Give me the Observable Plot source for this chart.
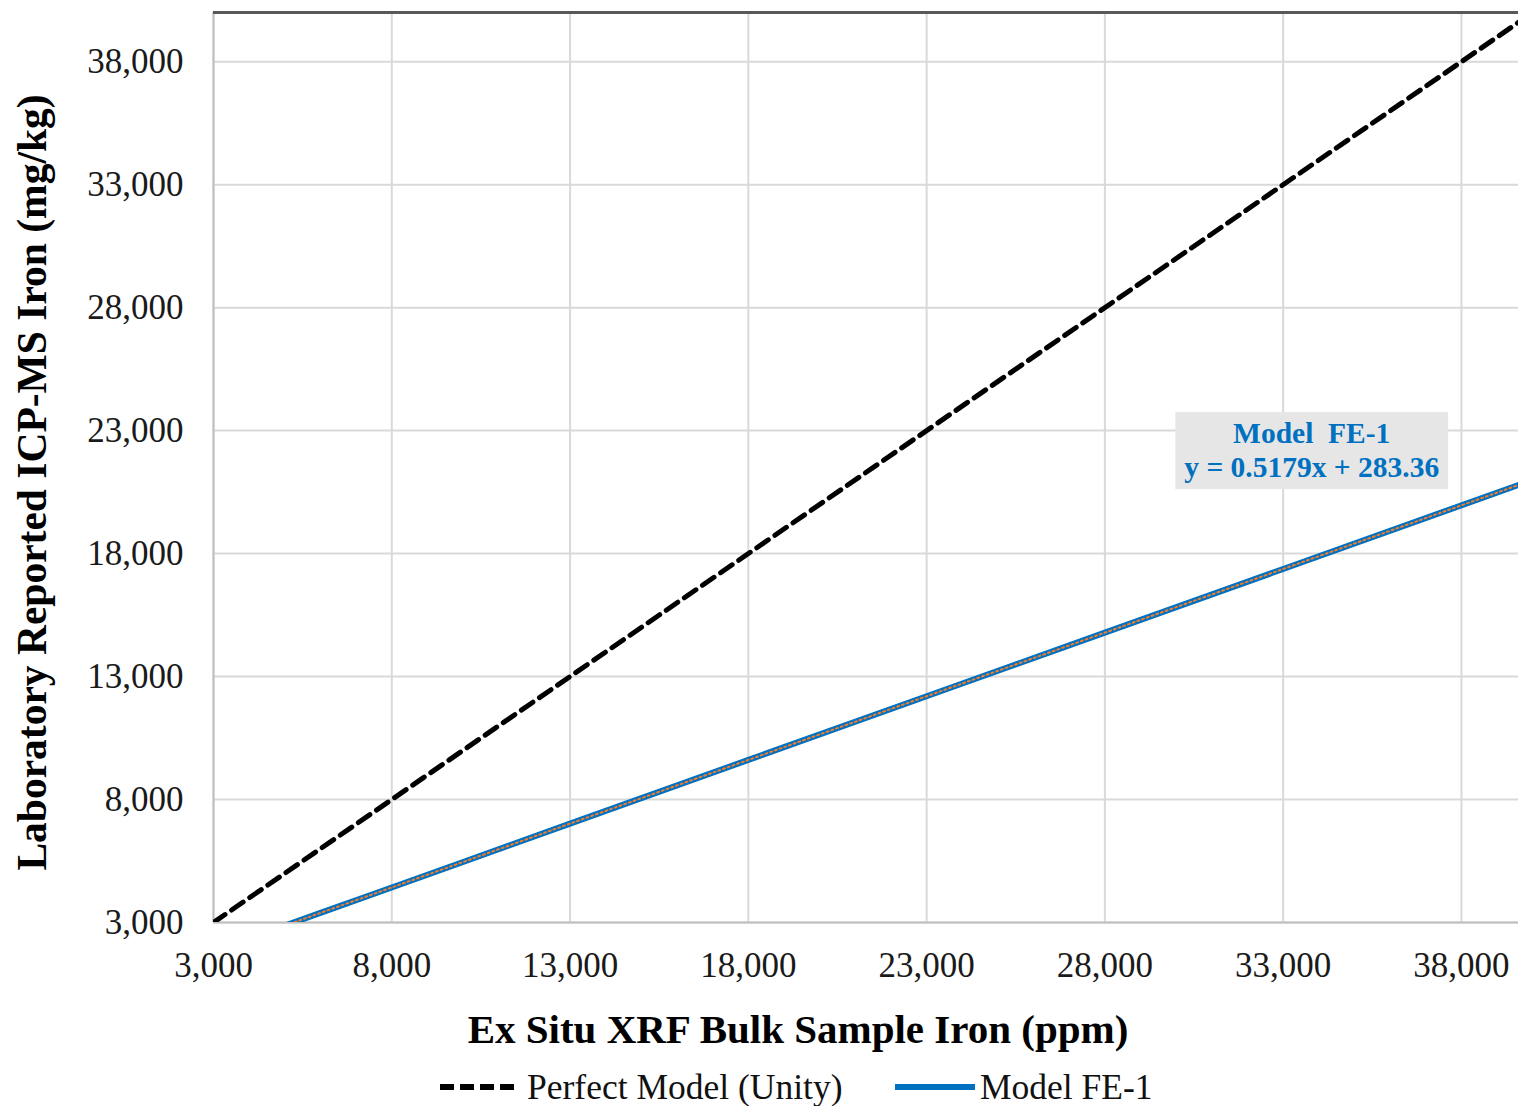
<!DOCTYPE html>
<html>
<head>
<meta charset="utf-8">
<script src="https://cdn.jsdelivr.net/npm/d3@7"></script>
<script src="https://cdn.jsdelivr.net/npm/@observablehq/plot@0.6"></script>
<style>
  html, body { margin: 0; padding: 0; background: #fff; }
  body { width: 1518px; height: 1106px; overflow: hidden; font-family: "Liberation Serif", "DejaVu Serif", serif; }
  #legend { position: relative; height: 46px; }
  .lg { position: absolute; top: 4px; display: flex; align-items: center; height: 46px; font-size: 35.5px; color: #111; }
</style>
</head>
<body>
<div id="chart"></div>
<div id="legend"></div>
<script>
// ---- data ----
const xTicks = [3000, 8000, 13000, 18000, 23000, 28000, 33000, 38000];
const yTicks = [3000, 8000, 13000, 18000, 23000, 28000, 33000, 38000];
const unityX = [3000, 39600];
const unityY = [3000, 39600];
const fe1X = [4878, 6000, 8000, 10000, 13000, 18000, 23000, 28000, 33000, 39600];
const fe1Y = [2810, 3390, 4425, 5460, 7020, 9610, 12200, 14785, 17375, 20790];
const seriesNames = ["Perfect Model (Unity)", "Model FE-1"];
const annotationLines = ["Model  FE-1", "y = 0.5179x + 283.36"];
const annotationPos = {x: 33800, y: 22250};
const annotationBox = {x1: 29990, x2: 37640, y1: 20600, y2: 23730};
const xLabel = "Ex Situ XRF Bulk Sample Iron (ppm)";
const yLabel = "Laboratory Reported ICP-MS Iron (mg/kg)";

const unity = unityX.map((x, i) => ({x, y: unityY[i]}));
const fe1 = fe1X.map((x, i) => ({x, y: fe1Y[i]}));

const fmt = d3.format(",");
const font = "Liberation Serif";
const blue = "#0070C0";
const orange = "#ED7D31";

const W = 1518, H = 1060;
const chart = Plot.plot({
  width: W,
  height: H,
  marginLeft: 213,
  marginRight: 0,
  marginTop: 12,
  marginBottom: H - 922,
  style: {fontFamily: font, background: "#fff"},
  x: {domain: [3000, 39600]},
  y: {domain: [3000, 40000]},
  marks: [
    Plot.gridX(xTicks, {stroke: "#d9d9d9", strokeOpacity: 1, strokeWidth: 2}),
    Plot.gridY(yTicks, {stroke: "#d9d9d9", strokeOpacity: 1, strokeWidth: 2}),
    Plot.ruleX([3000], {stroke: "#bfbfbf", strokeWidth: 2}),
    Plot.ruleY([3000], {stroke: "#bfbfbf", strokeWidth: 2}),
    Plot.ruleY([40000], {stroke: "#595959", strokeWidth: 3}),
    Plot.axisX({ticks: xTicks, tickFormat: fmt, tickSize: 0, tickPadding: 30, fontSize: 35, label: null, fill: "#1a1a1a"}),
    Plot.axisY({ticks: yTicks, tickFormat: fmt, tickSize: 0, tickPadding: 30, fontSize: 35, label: null, fill: "#1a1a1a"}),
    Plot.line(unity, {x: "x", y: "y", stroke: "#000", strokeWidth: 5, strokeDasharray: "14,8", clip: true}),
    Plot.line(fe1, {x: "x", y: "y", stroke: blue, strokeWidth: 6, clip: true}),
    Plot.line(fe1, {x: "x", y: "y", stroke: orange, strokeWidth: 2, strokeDasharray: "2,3", clip: true}),
    Plot.rect([annotationBox], {x1: "x1", x2: "x2", y1: "y1", y2: "y2", fill: "#e6e6e6"}),
    Plot.text([annotationPos], {x: "x", y: "y", text: () => annotationLines.join("\n"), lineHeight: 1.15, fontSize: 29.5, fontWeight: "bold", fill: blue}),
    Plot.text([xLabel], {frameAnchor: "bottom", dx: -68, dy: 120, fontSize: 41, fontWeight: "bold", fill: "#000"}),
    Plot.text([yLabel], {frameAnchor: "left", textAnchor: "middle", dx: -181, dy: 15, rotate: -90, fontSize: 41.5, fontWeight: "bold", fill: "#000"})
  ]
});
document.getElementById("chart").appendChild(chart);

// legend
const legend = document.getElementById("legend");
legend.innerHTML = `
  <div class="lg" style="left:440px">
    <svg width="74" height="10"><line x1="0" y1="5" x2="74" y2="5" stroke="#000" stroke-width="6" stroke-dasharray="14,6"/></svg>
    <span style="margin-left:13px">${seriesNames[0]}</span>
  </div>
  <div class="lg" style="left:895px">
    <svg width="80" height="10"><line x1="0" y1="5" x2="80" y2="5" stroke="${blue}" stroke-width="6"/></svg>
    <span style="margin-left:5px">${seriesNames[1]}</span>
  </div>`;
</script>
</body>
</html>
